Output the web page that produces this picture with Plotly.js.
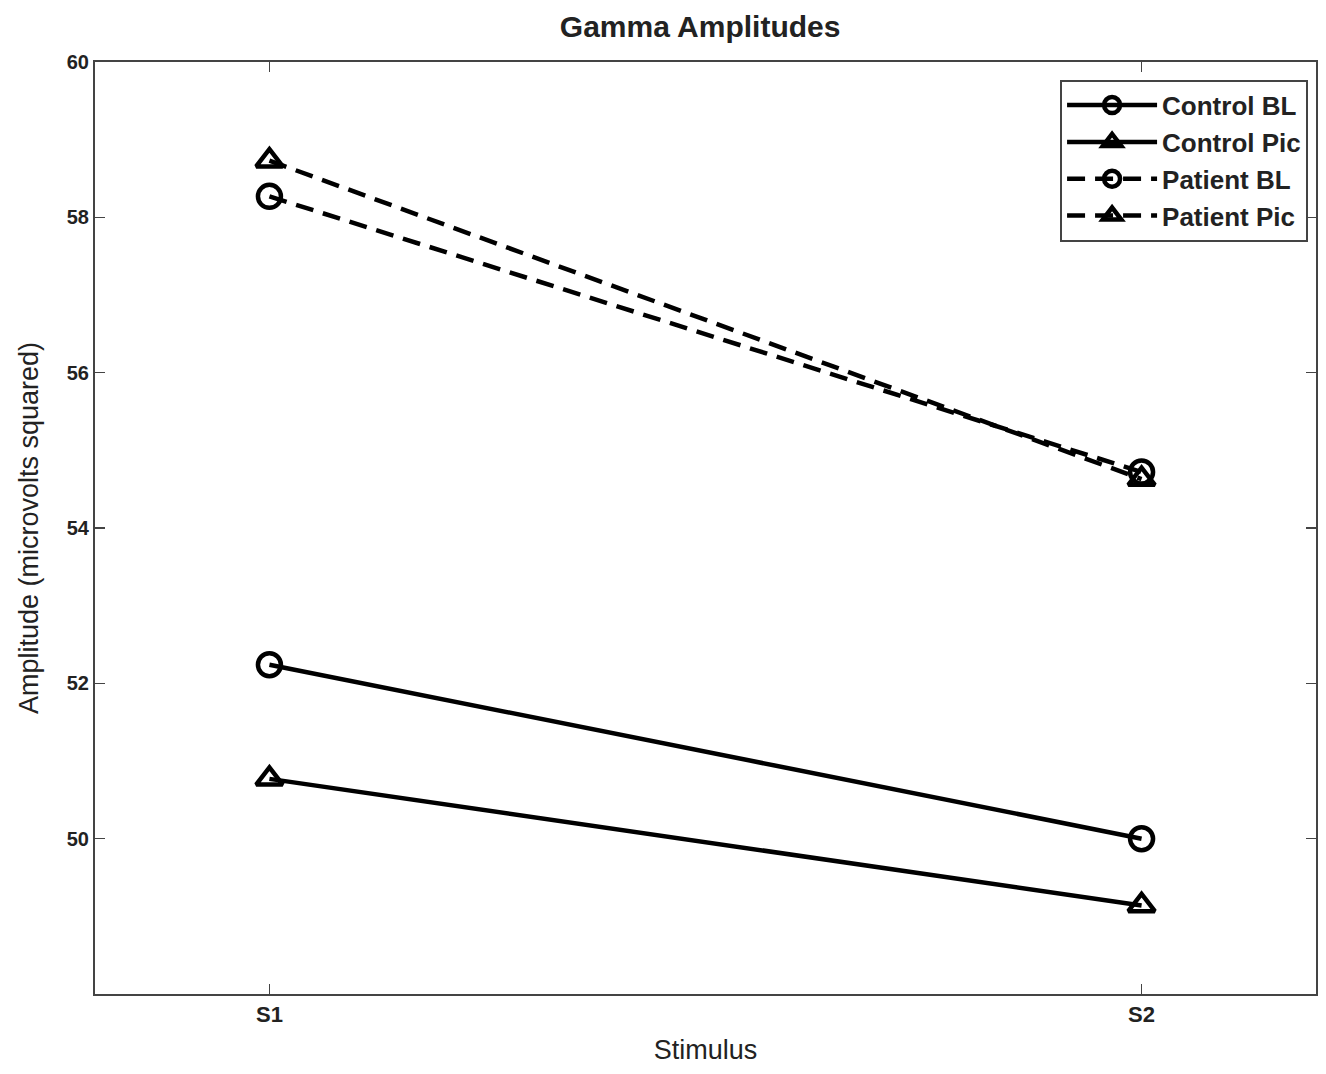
<!DOCTYPE html>
<html>
<head>
<meta charset="utf-8">
<script src="https://cdn.plot.ly/plotly-3.0.1.min.js"></script>
<style>html,body{margin:0;padding:0;background:#fff;}#chart{width:1326px;height:1074px;}</style>
</head>
<body>
<div id="chart"></div>
<script>
const stimuli = ['S1', 'S2'];
const controlBL = [52.24, 50.0];
const controlPic = [50.77, 49.14];
const patientBL = [58.27, 54.72];
const patientPic = [58.73, 54.63];
const yTicks = [50, 52, 54, 56, 58, 60];

const FONT = 'Liberation Sans, Arial, sans-serif';

function series(name, y, symbol, dash) {
  return {
    x: stimuli, y: y, name: name, type: 'scatter', mode: 'lines+markers',
    line: {color: '#000', width: 4.5, dash: dash},
    marker: {symbol: symbol, size: 23, color: '#000', line: {color: '#000', width: 4.5}}
  };
}

const data = [
  series('Control BL', controlBL, 'circle-open', 'solid'),
  series('Control Pic', controlPic, 'triangle-up-open', 'solid'),
  series('Patient BL', patientBL, 'circle-open', '18px,10px'),
  series('Patient Pic', patientPic, 'triangle-up-open', '18px,10px')
];

const layout = {
  width: 1326, height: 1074,
  margin: {l: 95, r: 10, t: 62, b: 80},
  paper_bgcolor: '#fff', plot_bgcolor: '#fff',
  font: {family: FONT, color: '#222'},
  title: {text: '<b>Gamma Amplitudes</b>', font: {family: FONT, size: 30, color: '#222'}, x: 0.528, xanchor: 'center', y: 0.975, yanchor: 'middle'},
  xaxis: {
    type: 'category', range: [-0.2, 1.2],
    showgrid: false, zeroline: false,
    showline: true, linecolor: '#444', linewidth: 2, mirror: 'ticks',
    ticks: 'inside', ticklen: 10, tickwidth: 1.5, tickcolor: '#444',
    tickfont: {family: FONT, size: 22, color: '#222', weight: 'bold'},
    title: {text: 'Stimulus', font: {family: FONT, size: 27, color: '#222'}, standoff: 14}
  },
  yaxis: {
    range: [48, 60], tickvals: yTicks,
    showgrid: false, zeroline: false,
    showline: true, linecolor: '#444', linewidth: 2, mirror: 'ticks',
    ticks: 'inside', ticklen: 10, tickwidth: 1.5, tickcolor: '#444',
    tickfont: {family: FONT, size: 20, color: '#222', weight: 'bold'},
    title: {text: 'Amplitude (microvolts squared)', font: {family: FONT, size: 27, color: '#222'}, standoff: 20}
  },
  legend: {
    x: 0.9935, xanchor: 'right', y: 0.981, yanchor: 'top',
    bgcolor: '#fff', bordercolor: '#444', borderwidth: 2,
    font: {family: FONT, size: 26, color: '#222', weight: 'bold'},
    itemwidth: 90, tracegroupgap: 0
  },
  showlegend: true
};

Plotly.newPlot('chart', data, layout, {displayModeBar: false, staticPlot: true});
</script>
</body>
</html>
